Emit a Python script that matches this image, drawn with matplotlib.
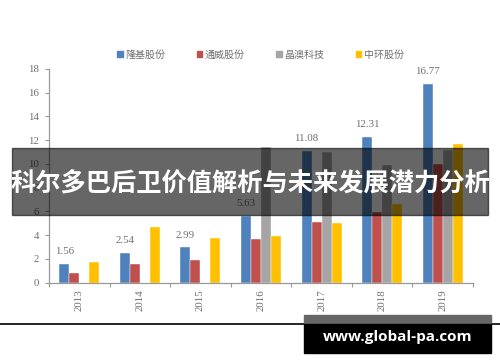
import matplotlib
matplotlib.use("Agg")
import matplotlib.pyplot as plt
import numpy as np
from matplotlib.patches import Rectangle
from matplotlib.lines import Line2D

years = ["2013", "2014", "2015", "2016", "2017", "2018", "2019"]
longi = [1.56, 2.54, 2.99, 5.63, 11.08, 12.31, 16.77]
tongwei = [0.78, 1.55, 1.91, 3.65, 5.09, 5.98, 10.02]
jinao = [0, 0, 0, 11.46, 11.04, 9.92, 11.18]
zhonghuan = [1.72, 4.67, 3.79, 3.93, 5.0, 6.6, 11.69]
series_names = ["隆基股份", "通威股份", "晶澳科技", "中环股份"]
colors = ["#4F81BD", "#C0504D", "#A5A5A5", "#FFC000"]

title = "科尔多巴后卫价值解析与未来发展潜力分析"
site = "www.global-pa.com"

cjk = ["Noto Sans CJK SC", "DejaVu Sans"]
serif = "Liberation Serif"
grey = "#6f6f6f"

fig = plt.figure(figsize=(5, 3.62), dpi=100)
ax = fig.add_axes([0.098, 0.219, 0.848, 0.5904])

x = np.arange(len(years))
w = 0.165
data = [longi, tongwei, jinao, zhonghuan]
for i, (vals, c) in enumerate(zip(data, colors)):
    ax.bar(x + (i - 1.5) * w, vals, width=w, color=c, edgecolor="white", linewidth=0.3, zorder=2)

# value labels over the first series
for xi, v in zip(x, longi):
    ax.text(xi - 1.5 * w, v + 0.65, f"{v:.2f}", ha="center", va="bottom",
            fontsize=7.8, family=serif, color=grey)

ax.set_xlim(-0.5, len(years) - 0.5)
ax.set_ylim(0, 18)
ax.set_yticks(range(0, 19, 2))
ax.set_xticks(x)
ax.set_xticklabels(years, rotation=90, family=serif, fontsize=7.8, color=grey)
ax.set_xticks(np.arange(-0.5, len(years)), minor=True)
ax.tick_params(axis="x", which="major", length=0, pad=5)
ax.tick_params(axis="x", which="minor", length=3, color="#999999", width=0.8)
ax.tick_params(axis="y", length=3, color="#999999", width=0.8, labelsize=7.8, labelcolor=grey, pad=4)
for lab in ax.get_yticklabels():
    lab.set_family(serif)
for s in ["top", "right"]:
    ax.spines[s].set_visible(False)
for s in ["left", "bottom"]:
    ax.spines[s].set_color("#999999")
    ax.spines[s].set_linewidth(0.9)

# legend
handles = [Rectangle((0, 0), 1, 1, color=c) for c in colors]
leg = fig.legend(handles, series_names, loc="center", bbox_to_anchor=(0.521, 0.848), ncol=4,
                 frameon=False, handlelength=0.55, handleheight=0.55,
                 handletextpad=0.3, columnspacing=3.1, prop={"family": cjk, "size": 7.2})
for t in leg.get_texts():
    t.set_color(grey)

# dark banner with title
fig.patches.append(Rectangle((12 / 500, 1 - 215 / 362), 476 / 500, 67 / 362,
                             transform=fig.transFigure, color="black", alpha=0.6, zorder=5))
fig.text(0.5, 1 - 184 / 362, title, ha="center", va="center", color="white",
         fontsize=18.2, fontweight="bold", family=cjk, zorder=6)

# bottom rule and site box
fig.add_artist(Line2D([0, 1], [1 - 323.5 / 362, 1 - 323.5 / 362], transform=fig.transFigure,
                      color="black", linewidth=1.2, zorder=4))
fig.patches.append(Rectangle((304 / 500, 1 - 324 / 362), 187 / 500, 9 / 362,
                             transform=fig.transFigure, color="#666666", zorder=5))
fig.patches.append(Rectangle((304 / 500, 1 - 353 / 362), 187 / 500, 29 / 362,
                             transform=fig.transFigure, color="black", zorder=5))
fig.text(397.5 / 500, 1 - 337.5 / 362, site, ha="center", va="center", color="white",
         fontsize=11, fontweight="bold", family=["Open Sans", "DejaVu Sans"], zorder=6)

fig.savefig("out.png", dpi=100)
